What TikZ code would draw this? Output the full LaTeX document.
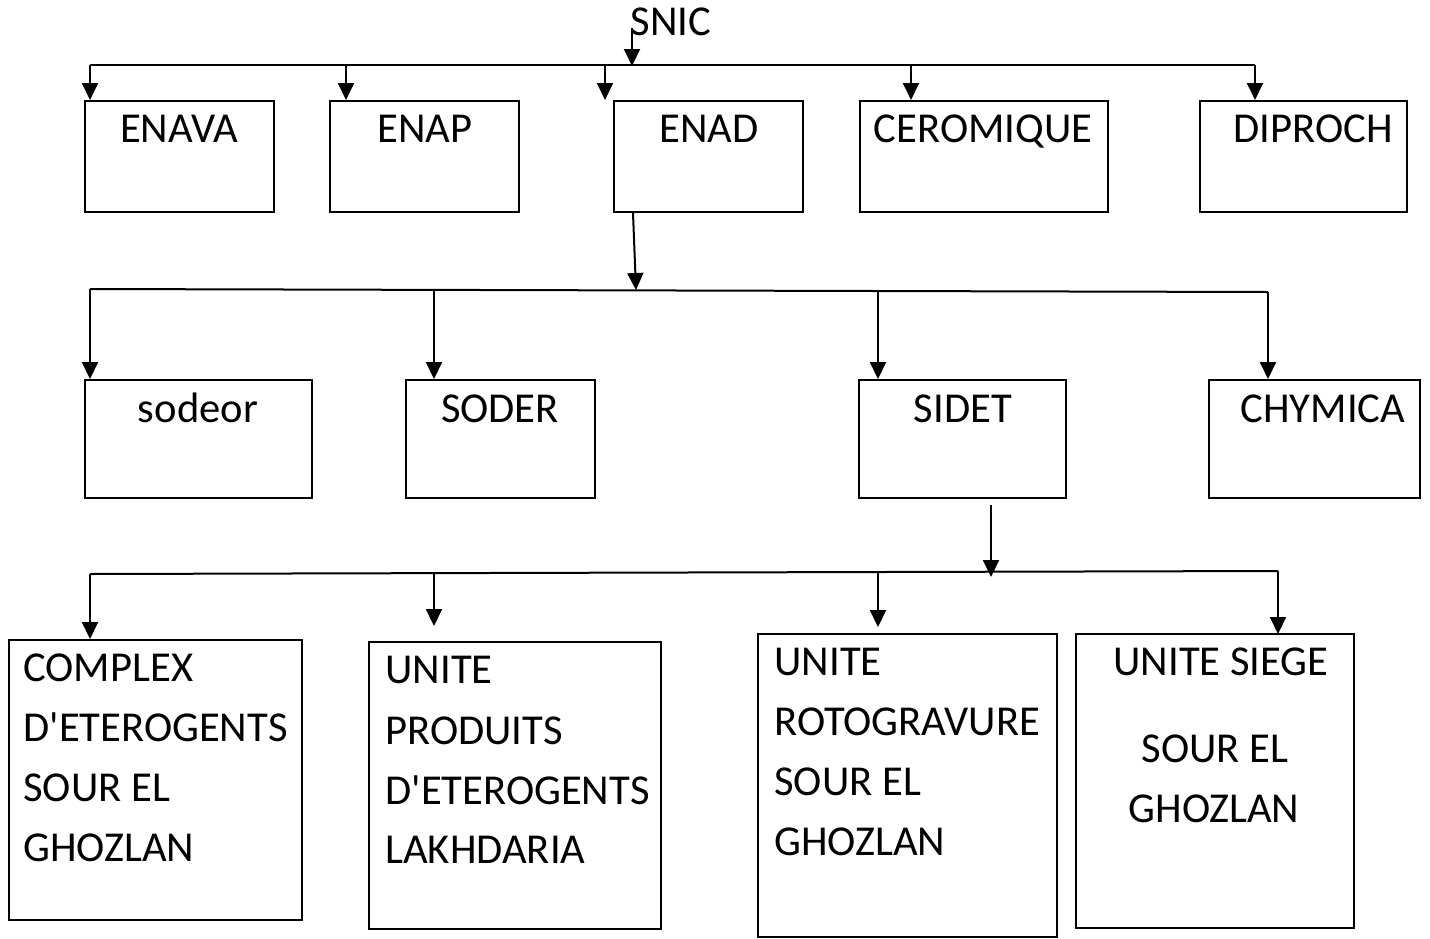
\documentclass[tikz,border=0pt]{standalone}
\usepackage{fontspec}
\setmainfont{Carlito}[Ligatures=TeXOff]
\usetikzlibrary{arrows.meta}
\begin{document}
\begin{tikzpicture}[x=0.5pt,y=-0.5pt,
  box/.style={draw=black,line width=1.2pt,fill=none,inner sep=0pt,outer sep=0pt},
  conn/.style={draw=black,line width=1pt},
  arr/.style={conn,-{Triangle[width=8pt,length=8.5pt]}},
  lbl/.style={inner sep=0pt,anchor=base,font=\fontsize{21.3}{25}\selectfont},
  lbll/.style={lbl,anchor=base west}]
\useasboundingbox (0,0) rectangle (1430,938);
% ---- boxes row 1
\node[box,minimum width=94.5pt,minimum height=55.5pt] (enava) at (179.5,156.5) {};
\node[box,minimum width=94.5pt,minimum height=55.5pt] (enap) at (424.5,156.5) {};
\node[box,minimum width=94.5pt,minimum height=55.5pt] (enad) at (708.5,156.5) {};
\node[box,minimum width=124pt,minimum height=55.5pt] (cero) at (984,156.5) {};
\node[box,minimum width=103.5pt,minimum height=55.5pt] (diproch) at (1303.5,156.5) {};
% ---- boxes row 2
\node[box,minimum width=113.5pt,minimum height=59pt] (sodeor) at (198.5,439) {};
\node[box,minimum width=94.5pt,minimum height=59pt] (soder) at (500.5,439) {};
\node[box,minimum width=103.5pt,minimum height=59pt] (sidet) at (962.5,439) {};
\node[box,minimum width=105.5pt,minimum height=59pt] (chymica) at (1314.5,439) {};
% ---- boxes row 3
\node[box,minimum width=146.5pt,minimum height=140pt] (complex) at (155.5,780) {};
\node[box,minimum width=146pt,minimum height=143.5pt] (produits) at (515,785.5) {};
\node[box,minimum width=149.5pt,minimum height=151.5pt] (roto) at (907.5,785.5) {};
\node[box,minimum width=139pt,minimum height=147pt] (siege) at (1215,781) {};
% ---- texts
\node[lbl] (tsnic) at (671,35) {SNIC};
\node[lbl] (tenava) at (179,142) {ENAVA};
\node[lbl] (tenap) at (425,142) {ENAP};
\node[lbl] (tenad) at (709,142) {ENAD};
\node[lbl] (tcero) at (983,142) {CEROMIQUE};
\node[lbl] (tdip) at (1313,142) {DIPROCH};
\node[lbl] (tsodeor) at (198,422) {sodeor};
\node[lbl] (tsoder) at (500,422) {SODER};
\node[lbl] (tsidet) at (963,422) {SIDET};
\node[lbl] (tchy) at (1323,422) {CHYMICA};
\node[lbll] (c1) at (23,681) {COMPLEX};
\node[lbll] (c2) at (23,741) {D'ETEROGENTS};
\node[lbll] (c3) at (23,801) {SOUR EL};
\node[lbll] (c4) at (23,861) {GHOZLAN};
\node[lbll] (p1) at (385,683) {UNITE};
\node[lbll] (p2) at (385,744) {PRODUITS};
\node[lbll] (p3) at (385,804) {D'ETEROGENTS};
\node[lbll] (p4) at (385,863) {LAKHDARIA};
\node[lbll] (r1) at (774,675) {UNITE};
\node[lbll] (r2) at (774,735) {ROTOGRAVURE};
\node[lbll] (r3) at (774,795) {SOUR EL};
\node[lbll] (r4) at (774,855) {GHOZLAN};
\node[lbl] (s1) at (1221,675) {UNITE SIEGE};
\node[lbl] (s2) at (1215,762) {SOUR EL};
\node[lbl] (s3) at (1214,822) {GHOZLAN};
% ---- level 1 connectors
\coordinate (s0) at (632,28);
\coordinate (j1) at (632,66);
\coordinate (h1a) at (90,65);
\coordinate (h1b) at (1255,65);
\draw[arr] (s0) -- (j1);
\draw[conn] (h1a) -- (h1b);
\coordinate (a11) at (90,100);
\coordinate (a12) at (346,100);
\coordinate (a13) at (605,100);
\coordinate (a14) at (911,100);
\coordinate (a15) at (1255,100);
\coordinate (b12) at (346,65);
\coordinate (b13) at (605,65);
\coordinate (b14) at (911,65);
\draw[arr] (h1a) -- (a11);
\draw[arr] (b12) -- (a12);
\draw[arr] (b13) -- (a13);
\draw[arr] (b14) -- (a14);
\draw[arr] (h1b) -- (a15);
% ---- level 2 connectors
\coordinate (e0) at (633,213);
\coordinate (j2) at (636,290);
\coordinate (h2a) at (90,289);
\coordinate (h2b) at (1268,292);
\draw[arr] (e0) -- (j2);
\draw[conn] (h2a) -- (h2b);
\coordinate (b22) at (434,290);
\coordinate (b23) at (878,291);
\coordinate (a21) at (90,379);
\coordinate (a22) at (434,379);
\coordinate (a23) at (878,379);
\coordinate (a24) at (1268,379);
\draw[arr] (h2a) -- (a21);
\draw[arr] (b22) -- (a22);
\draw[arr] (b23) -- (a23);
\draw[arr] (h2b) -- (a24);
% ---- level 3 connectors
\coordinate (d0) at (991,505);
\coordinate (j3) at (991,577);
\coordinate (h3a) at (90,574);
\coordinate (h3b) at (1278,571);
\draw[arr] (d0) -- (j3);
\draw[conn] (h3a) -- (h3b);
\coordinate (b32) at (434,573);
\coordinate (b33) at (878,572);
\coordinate (a31) at (90,639);
\coordinate (a32) at (434,626);
\coordinate (a33) at (878,627);
\coordinate (a34) at (1278,634);
\draw[arr] (h3a) -- (a31);
\draw[arr] (b32) -- (a32);
\draw[arr] (b33) -- (a33);
\draw[arr] (h3b) -- (a34);
\end{tikzpicture}
\end{document}
